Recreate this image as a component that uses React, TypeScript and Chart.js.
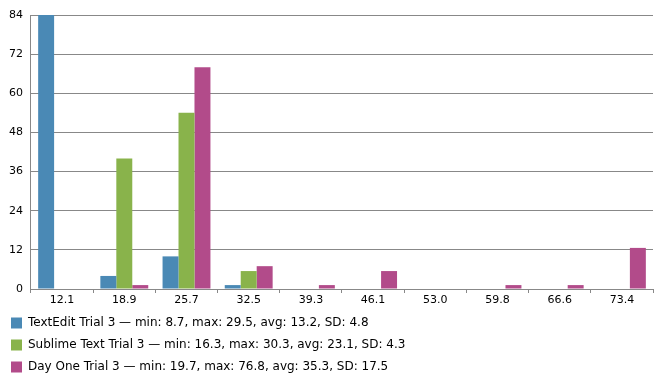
import React, { useEffect, useRef } from "react";
import { Chart, registerables } from "chart.js";

Chart.register(...registerables);

const categories = ["12.1", "18.9", "25.7", "32.5", "39.3", "46.1", "53.0", "59.8", "66.6", "73.4"];
const textEdit = [84, 4, 10, 1.2, 0, 0, 0, 0, 0, 0];
const sublime = [0, 40, 54, 5.5, 0, 0, 0, 0, 0, 0];
const dayOne = [0, 1.2, 68, 7, 1.2, 5.5, 0, 1.2, 1.2, 12.6];
const seriesNames = [
  "TextEdit Trial 3 \u2014 min: 8.7, max: 29.5, avg: 13.2, SD: 4.8",
  "Sublime Text Trial 3 \u2014 min: 16.3, max: 30.3, avg: 23.1, SD: 4.3",
  "Day One Trial 3 \u2014 min: 19.7, max: 76.8, avg: 35.3, SD: 17.5",
];
const yTicks = [0, 12, 24, 36, 48, 60, 72, 84];
const colors = ["#4A89B5", "#89B34B", "#B24B8A"];

export default function App() {
  const ref = useRef<HTMLCanvasElement | null>(null);
  useEffect(() => {
    if (!ref.current) return;
    const font = { family: "'DejaVu Sans', sans-serif", size: 11 };
    const xFont = { family: "'DejaVu Sans', sans-serif", size: 11, lineHeight: 1 };
    const legendFont = { family: "'DejaVu Sans', sans-serif", size: 12 };
    const chart = new Chart(ref.current, {
      type: "bar",
      data: {
        labels: categories,
        datasets: [textEdit, sublime, dayOne].map((d, i) => ({
          label: seriesNames[i],
          data: d,
          backgroundColor: colors[i],
          borderWidth: 0,
          categoryPercentage: 0.77,
          barPercentage: 1,
        })),
      },
      options: {
        animation: false,
        responsive: false,
        maintainAspectRatio: false,
        layout: { padding: { left: 1, right: 14, top: 15, bottom: 4 } },
        plugins: {
          tooltip: { enabled: false },
          legend: {
            position: "bottom",
            align: "start",
            labels: {
              font: legendFont,
              color: "#000",
              boxWidth: 11,
              boxHeight: 11,
              padding: 10,
            },
          },
        },
        scales: {
          x: {
            grid: {
              drawOnChartArea: false,
              drawTicks: true,
              tickLength: 4,
              color: "#888",
              offset: true,
            },
            border: { color: "#888" },
            ticks: { font: xFont, color: "#000", padding: 1.5, maxRotation: 0 },
          },
          y: {
            min: 0,
            max: 84,
            afterBuildTicks: (axis: any) => {
              axis.ticks = yTicks.map((v) => ({ value: v }));
            },
            grid: { color: "#888", drawTicks: false },
            border: { color: "#888" },
            ticks: { font, color: "#000", padding: 8 },
          },
        },
      },
    });
    return () => chart.destroy();
  }, []);
  return (
    <div style={{ position: "fixed", left: 0, top: 0, width: 667, height: 387, background: "#fff" }}>
      <canvas ref={ref} width={667} height={387} style={{ width: 667, height: 387 }} />
    </div>
  );
}
